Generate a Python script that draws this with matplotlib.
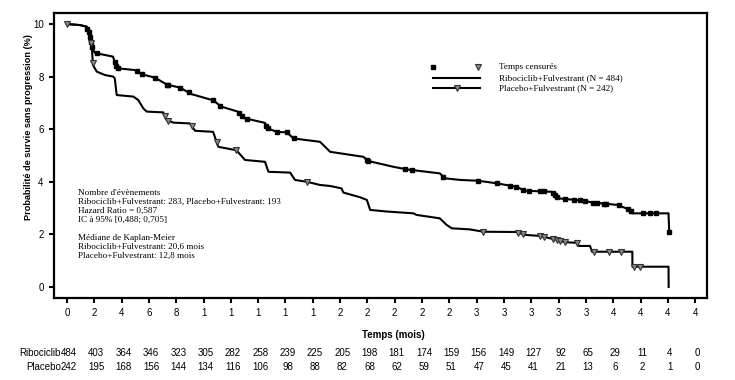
import numpy as np
import matplotlib
matplotlib.use("Agg")
import matplotlib.pyplot as plt
import matplotlib.transforms as mtransforms

# Kaplan-Meier curves (time in months, survival 0-10)
ribo_t = [0, 0.95, 1.44, 1.68, 1.81, 2.05, 3.37, 3.64, 4.98, 5.47, 6.45, 7.3, 8.28, 9.14,
          10.7, 11.3, 12.5, 12.9, 14.5, 14.7, 15.36, 16.1, 16.58, 18.53, 19.27, 21.7,
          22.07, 23.9, 24.9, 27.3, 27.7, 28.8, 30.1, 31.5, 32.9, 33.55, 35.5, 35.75, 36.0,
          37.8, 38.4, 40.3, 41.25, 41.4, 44.05, 44.1]
ribo_s = [10, 9.96, 9.9, 9.58, 9.09, 8.9, 8.76, 8.32, 8.25, 8.09, 7.96, 7.7, 7.58, 7.33,
          7.1, 6.86, 6.67, 6.43, 6.24, 6.03, 5.9, 5.88, 5.65, 5.52, 5.14, 4.95,
          4.79, 4.57, 4.47, 4.32, 4.13, 4.07, 4.04, 3.94, 3.81, 3.66, 3.62, 3.5, 3.37,
          3.28, 3.22, 3.12, 2.93, 2.8, 2.8, 2.1]
ribo_cens = [1.5, 1.6, 1.7, 1.75, 1.8, 2.2, 3.5, 3.6, 3.74, 5.1, 5.47, 6.45, 7.3, 7.4, 8.28,
             8.9, 10.7, 11.2, 12.6, 12.8, 13.2, 14.6, 14.7, 15.36, 16.1, 16.6, 21.96, 22.07,
             24.76, 25.25, 27.57, 30.13, 31.5, 32.45, 32.9, 33.4, 33.8, 34.65, 34.9, 35.6,
             35.75, 35.9, 36.5, 37.1, 37.6, 37.9, 38.55, 38.8, 39.3, 39.5, 40.4, 41.1, 41.3,
             42.2, 42.7, 43.1, 44.1]

plac_t = [0, 0.95, 1.44, 1.68, 1.81, 1.9, 2.18, 2.78, 3.39, 3.5, 3.64, 4.86, 5.22, 5.59,
          5.84, 7.05, 7.3, 7.79, 9.0, 9.38, 10.7, 11.08, 12.4, 13.04, 14.5, 14.75, 16.34,
          16.7, 17.56, 18.53, 19.27, 20.1, 20.24, 21.47, 21.96, 22.2, 23.4, 25.37, 25.6,
          27.3, 27.8, 28.18, 29.5, 30.5, 32.9, 33.55, 34.65, 35.4, 36.5, 37.35, 37.47,
          38.3, 38.45, 41.4, 41.41, 44.05, 44.06]
plac_s = [10, 9.96, 9.9, 9.58, 9.2, 8.44, 8.19, 8.06, 8.0, 7.93, 7.3, 7.24, 7.11, 6.79,
          6.67, 6.64, 6.35, 6.25, 6.22, 5.94, 5.9, 5.33, 5.2, 4.83, 4.76, 4.38, 4.35,
          4.07, 4.0, 3.88, 3.84, 3.75, 3.59, 3.41, 3.31, 2.93, 2.87, 2.8, 2.74,
          2.61, 2.36, 2.23, 2.19, 2.1, 2.09, 1.98, 1.94, 1.85, 1.7, 1.68, 1.56,
          1.56, 1.34, 1.34, 0.77, 0.77, 0.0]
plac_cens = [0, 1.78, 1.89, 7.18, 7.42, 9.14, 10.96, 12.4, 17.56, 30.5, 33.06, 33.4, 34.65,
             34.95, 35.6, 35.9, 36.1, 36.5, 37.35, 38.6, 39.7, 40.6, 41.5, 41.93]

# at-risk table
xticks = list(range(0, 48, 2))
xtick_labels = ['0', '2', '4', '6', '8', '1', '1', '1', '1', '1', '2', '2', '2', '2', '2',
                '3', '3', '3', '3', '3', '4', '4', '4', '4']
ribo_risk = [484, 403, 364, 346, 323, 305, 282, 258, 239, 225, 205, 198, 181, 174, 159,
             156, 149, 127, 92, 65, 29, 11, 4, 0]
plac_risk = [242, 195, 168, 156, 144, 134, 116, 106, 98, 88, 82, 68, 62, 59, 51, 47, 45,
             41, 21, 13, 6, 2, 1, 0]
yticks = [0, 2, 4, 6, 8, 10]
ytick_labels = ['0', '2', '4', '6', '8', '10']

sans = ['Liberation Sans', 'DejaVu Sans']
serif = ['Liberation Serif', 'DejaVu Serif']
plt.rcParams['font.family'] = sans

fig = plt.figure(figsize=(7.35, 3.8), dpi=100)
ax = fig.add_axes([0.0735, 0.2158, 0.889, 0.75])

lw = 1.5
ax.plot(ribo_t, ribo_s, color='black', lw=lw, zorder=2)
ax.plot(plac_t, plac_s, color='black', lw=lw, zorder=2)
ax.plot(ribo_cens, np.interp(ribo_cens, ribo_t, ribo_s), ls='none', marker='s',
        ms=3.3, mfc='black', mec='black', zorder=3)
ax.plot(plac_cens, np.interp(plac_cens, plac_t, plac_s), ls='none', marker='v',
        ms=5, mfc='#8a8a8a', mec='#333333', mew=0.8, zorder=4)

ax.set_xlim(-0.95, 46.9)
ax.set_ylim(-0.42, 10.42)
ax.set_xticks(xticks)
ax.set_xticklabels(xtick_labels)
ax.set_yticks(yticks)
ax.set_yticklabels(ytick_labels)
ax.tick_params(axis='both', direction='out', length=3.5, width=1.5, labelsize=7, pad=4)
for sp in ax.spines.values():
    sp.set_linewidth(1.6)

ax.set_xlabel('Temps (mois)', fontsize=7, fontweight='bold')
ax.xaxis.set_label_coords(0.519, -0.112)
ax.set_ylabel('Probabilité de survie sans progression (%)', fontsize=6.6, fontweight='bold')
ax.yaxis.set_label_coords(-0.032, 0.6)

# legend drawn by hand
tr = ax.transAxes
ax.plot([0.580], [0.8105], marker='s', ms=3.3, color='black', transform=tr, clip_on=False)
ax.plot([0.649], [0.8105], marker='v', ms=5, mfc='#8a8a8a', mec='#333333', mew=0.8,
        transform=tr, clip_on=False)
ax.plot([0.580, 0.652], [0.772, 0.772], color='black', lw=lw, transform=tr)
ax.plot([0.580, 0.652], [0.737, 0.737], color='black', lw=lw, transform=tr)
ax.plot([0.616], [0.737], marker='v', ms=5, mfc='#8a8a8a', mec='#333333', mew=0.8,
        transform=tr)
leg_txt = ['Temps censurés', 'Ribociclib+Fulvestrant (N = 484)', 'Placebo+Fulvestrant (N = 242)']
for txt, yy in zip(leg_txt, [0.8105, 0.772, 0.737]):
    ax.text(0.681, yy, txt, transform=tr, family=serif, fontsize=6.6, va='center', ha='left')

info = ("Nombre d'évènements\n"
        "Ribociclib+Fulvestrant: 283, Placebo+Fulvestrant: 193\n"
        "Hazard Ratio = 0,587\n"
        "IC à 95% [0,488; 0,705]\n"
        "\n"
        "Médiane de Kaplan-Meier\n"
        "Ribociclib+Fulvestrant: 20,6 mois\n"
        "Placebo+Fulvestrant: 12,8 mois")
ax.text(0.0368, 0.383, info, transform=tr, family=serif, fontsize=6.6, va='top', ha='left',
        linespacing=1.17)

# numbers at risk
btr = mtransforms.blended_transform_factory(ax.transData, ax.transAxes)
for x, r, p in zip(xticks, ribo_risk, plac_risk):
    ax.text(x + 0.15, -0.192, str(r), transform=btr, fontsize=7, ha='center', va='center',
            clip_on=False)
    ax.text(x + 0.15, -0.241, str(p), transform=btr, fontsize=7, ha='center', va='center',
            clip_on=False)
ax.text(-0.45, -0.192, 'Ribociclib', transform=btr, fontsize=7, ha='right', va='center')
ax.text(-0.45, -0.241, 'Placebo', transform=btr, fontsize=7, ha='right', va='center')

fig.savefig('out.png', dpi=100)
